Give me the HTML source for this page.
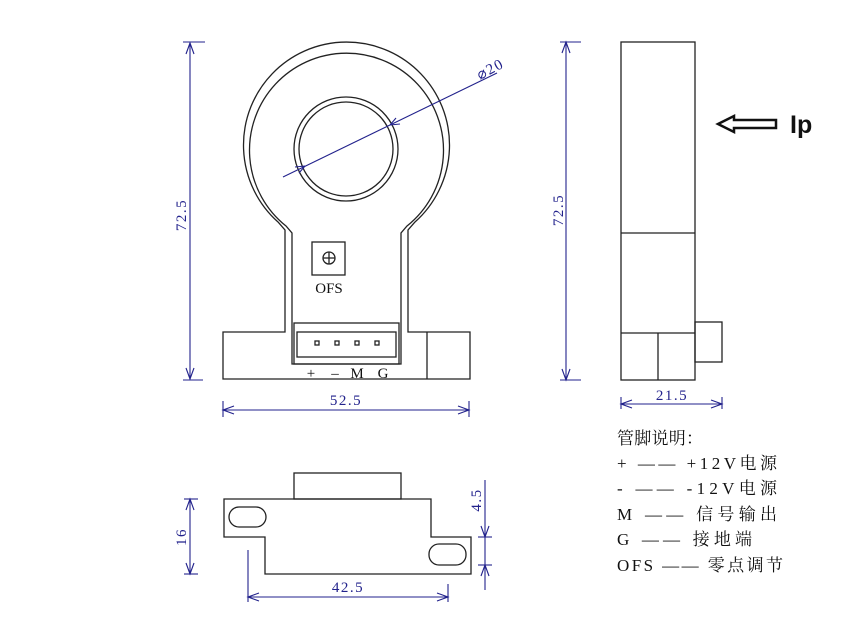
<!DOCTYPE html>
<html><head><meta charset="utf-8"><style>
html,body{margin:0;padding:0;background:#fff;}
svg{display:block;}
.k{fill:none;stroke:#222;stroke-width:1.3;}
.b{fill:none;stroke:#22228c;stroke-width:1.1;}
.bt{fill:#22228c;font-family:"Liberation Serif",serif;font-size:15px;letter-spacing:1.5px;}
.kt{fill:#111;font-family:"Liberation Serif","Noto Serif CJK SC",serif;}
</style></head><body>
<svg width="851" height="644" viewBox="0 0 851 644" xmlns="http://www.w3.org/2000/svg">
<!-- Front view -->
<path class="k" d="M285,230 L285,332 L223,332 L223,379 L470,379 L470,332 L408,332 L408,230 L415,222 A103,103 0 1 0 278,222 Z"/>
<path class="k" d="M292,364 L292,233 L286,226 A97,97 0 1 1 407,226 L401,233 L401,364 Z"/>
<line class="k" x1="427" y1="332" x2="427" y2="379"/>
<circle class="k" cx="346" cy="149" r="52"/>
<circle class="k" cx="346" cy="149" r="47"/>
<rect class="k" x="294" y="323" width="105" height="41"/>
<rect class="k" x="297" y="332" width="99" height="25"/>
<g class="k" stroke-width="1.2">
<rect x="315" y="341" width="4" height="4"/><rect x="335" y="341" width="4" height="4"/>
<rect x="355" y="341" width="4" height="4"/><rect x="375" y="341" width="4" height="4"/>
</g>
<rect class="k" x="312" y="242" width="33" height="33"/>
<circle class="k" cx="329" cy="258" r="6"/>
<line class="k" x1="323" y1="258" x2="335" y2="258"/><line class="k" x1="329" y1="252" x2="329" y2="264"/>
<text class="kt" x="329" y="293" font-size="15" text-anchor="middle">OFS</text>
<text class="kt" x="311" y="378" font-size="15" text-anchor="middle">+</text>
<text class="kt" x="335" y="378" font-size="15" text-anchor="middle">–</text>
<text class="kt" x="357" y="378" font-size="15" text-anchor="middle">M</text>
<text class="kt" x="383" y="378" font-size="15" text-anchor="middle">G</text>
<!-- diameter -->
<line class="b" x1="283" y1="177" x2="497" y2="73"/>
<path class="b" d="M305,166 l-10,1 M305,166 l-6,7 M390,125 l10,-1 M390,125 l6,-7"/>
<text class="bt" x="0" y="0" transform="translate(480,80) rotate(-28)" font-size="13">⌀20</text>
<!-- 72.5 left -->
<line class="b" x1="190" y1="43" x2="190" y2="379"/>
<line class="b" x1="183" y1="42" x2="205" y2="42"/><line class="b" x1="183" y1="380" x2="203" y2="380"/>
<path class="b" d="M186,54 L190,43 L194,54 M186,368 L190,379 L194,368"/>
<text class="bt" transform="translate(186,215) rotate(-90)" text-anchor="middle">72.5</text>
<!-- 52.5 -->
<line class="b" x1="223" y1="410" x2="469" y2="410"/>
<line class="b" x1="223" y1="401" x2="223" y2="417"/><line class="b" x1="469" y1="401" x2="469" y2="417"/>
<path class="b" d="M234,406 L223,410 L234,414 M458,406 L469,410 L458,414"/>
<text class="bt" x="346" y="405" text-anchor="middle">52.5</text>
<!-- Side view -->
<rect class="k" x="621" y="42" width="74" height="338"/>
<line class="k" x1="621" y1="233" x2="695" y2="233"/>
<line class="k" x1="621" y1="333" x2="695" y2="333"/>
<line class="k" x1="658" y1="333" x2="658" y2="380"/>
<rect class="k" x="695" y="322" width="27" height="40"/>
<line class="b" x1="566" y1="42" x2="566" y2="380"/>
<line class="b" x1="560" y1="42" x2="581" y2="42"/><line class="b" x1="560" y1="380" x2="581" y2="380"/>
<path class="b" d="M562,53 L566,42 L570,53 M562,369 L566,380 L570,369"/>
<text class="bt" transform="translate(563,210) rotate(-90)" text-anchor="middle">72.5</text>
<line class="b" x1="621" y1="404" x2="722" y2="404"/>
<line class="b" x1="621" y1="397" x2="621" y2="409"/><line class="b" x1="722" y1="397" x2="722" y2="409"/>
<path class="b" d="M632,400 L621,404 L632,408 M711,400 L722,404 L711,408"/>
<text class="bt" x="672" y="400" text-anchor="middle">21.5</text>
<!-- Ip arrow -->
<path d="M718,124 L734,116 L734,120 L776,120 L776,128 L734,128 L734,132 Z" fill="#fff" stroke="#111" stroke-width="2.5"/>
<text x="790" y="133" font-family="Liberation Sans,sans-serif" font-weight="bold" font-size="25" fill="#111">Ip</text>
<!-- Bottom view -->
<rect class="k" x="294" y="473" width="107" height="26"/>
<path class="k" d="M224,499 L431,499 L431,537 L471,537 L471,574 L265,574 L265,537 L224,537 Z"/>
<rect class="k" x="229" y="507" width="37" height="20" rx="10"/>
<rect class="k" x="429" y="544" width="37" height="21" rx="10"/>
<line class="b" x1="190" y1="499" x2="190" y2="574"/>
<line class="b" x1="184" y1="499" x2="198" y2="499"/><line class="b" x1="184" y1="574" x2="198" y2="574"/>
<path class="b" d="M186,510 L190,499 L194,510 M186,563 L190,574 L194,563"/>
<text class="bt" transform="translate(186,537) rotate(-90)" text-anchor="middle">16</text>
<line class="b" x1="248" y1="550" x2="248" y2="602"/>
<line class="b" x1="448" y1="584" x2="448" y2="602"/>
<line class="b" x1="248" y1="597" x2="448" y2="597"/>
<path class="b" d="M259,593 L248,597 L259,601 M437,593 L448,597 L437,601"/>
<text class="bt" x="348" y="592" text-anchor="middle">42.5</text>
<line class="b" x1="485" y1="480" x2="485" y2="590"/>
<line class="b" x1="478" y1="537" x2="492" y2="537"/><line class="b" x1="478" y1="565" x2="492" y2="565"/>
<path class="b" d="M481,526 L485,537 L489,526 M481,576 L485,565 L489,576"/>
<text class="bt" transform="translate(481,500) rotate(-90)" text-anchor="middle">4.5</text>
<!-- Legend -->
<g class="kt" font-size="17">
<text x="617" y="444" textLength="86" lengthAdjust="spacing">管脚说明：</text>
<text x="617" y="469" textLength="160" lengthAdjust="spacing">+ ——  +12V电源</text>
<text x="617" y="494" textLength="160" lengthAdjust="spacing">- ——  -12V电源</text>
<text x="617" y="520" textLength="160" lengthAdjust="spacing">M ——  信号输出</text>
<text x="617" y="545" textLength="135" lengthAdjust="spacing">G ——  接地端</text>
<text x="617" y="571" textLength="166" lengthAdjust="spacing">OFS ——  零点调节</text>
</g>
</svg>
</body></html>
